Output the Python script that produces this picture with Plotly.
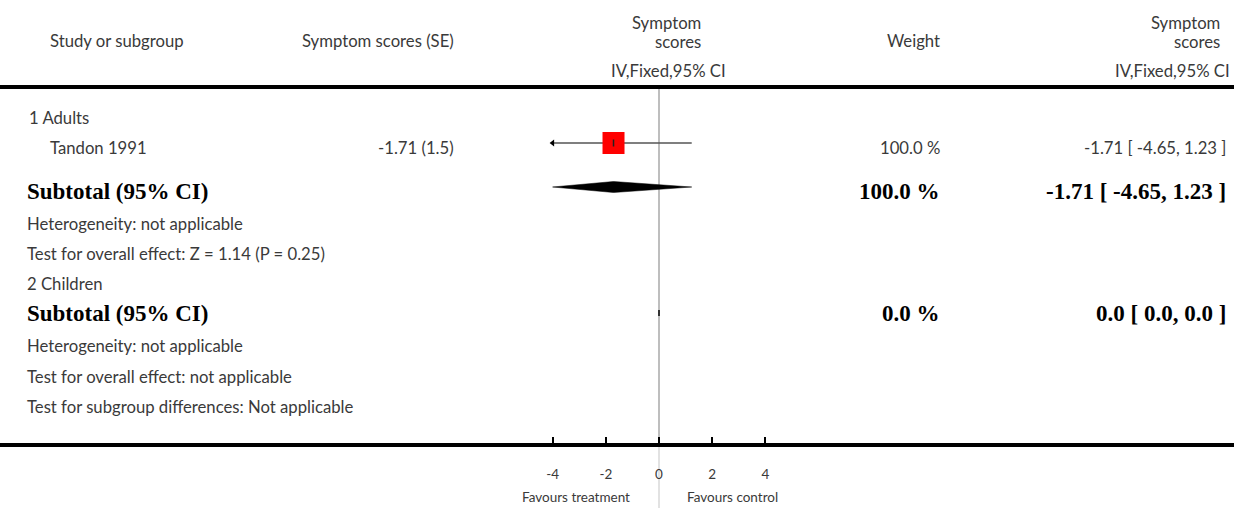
import plotly.graph_objects as go

# ---------------- data ----------------
study_names = ["Tandon 1991"]
study_effect_text = ["-1.71 (1.5)"]
study_est = [-1.71]
study_lo = [-4.65]
study_hi = [1.23]
study_weight = [100.0]

subgroup_labels = ["1 Adults", "2 Children"]
subtotal_est = [-1.71, 0.0]
subtotal_lo = [-4.65, 0.0]
subtotal_hi = [1.23, 0.0]
subtotal_weight = [100.0, 0.0]
heterogeneity_text = ["Heterogeneity: not applicable", "Heterogeneity: not applicable"]
overall_text = ["Test for overall effect: Z = 1.14 (P = 0.25)", "Test for overall effect: not applicable"]
subgroup_diff_text = "Test for subgroup differences: Not applicable"

tick_vals = [-4, -2, 0, 2, 4]
tick_labels = ["-4", "-2", "0", "2", "4"]
plot_limit = 4  # graph is drawn from -4 to 4

# ---------------- layout constants ----------------
W, H = 1234, 508
ZERO_PX = 659.0
UNIT_PX = 26.6
AXIS_PX = 443.0
X_RANGE = [(0 - ZERO_PX) / UNIT_PX, (W - ZERO_PX) / UNIT_PX]

SANS = "Lato, 'Open Sans', sans-serif"
SERIF = "'Liberation Serif', 'DejaVu Serif', serif"
TXT = "#3a3a3a"
SANS_SIZE = 16.7
BOLD_SIZE = 23

# row text positions (pixels from top)
ROW_ADULTS = 118
ROW_STUDY = 148
ROW_SUB1 = 191
ROW_HET1 = 224
ROW_OV1 = 254
ROW_CHILD = 284
ROW_SUB2 = 313
ROW_HET2 = 346
ROW_OV2 = 377
ROW_DIFF = 407

fig = go.Figure()
ann = []


def px(x):
    return x / W


def py(y):
    return 1 - y / H


def txt(x, y, s, anchor="left", bold=False, size=None, color=None):
    ann.append(dict(
        x=px(x), y=py(y), xref="paper", yref="paper", text=s, showarrow=False,
        xanchor=anchor, yanchor="middle",
        font=dict(family=SERIF if bold else SANS,
                  size=size or (BOLD_SIZE if bold else SANS_SIZE),
                  weight="bold" if bold else "normal",
                  color=color or ("black" if bold else TXT)),
    ))


def clip(v):
    return max(-plot_limit, min(plot_limit, v))


# ---------------- header ----------------
txt(48, 41, "Study or subgroup")
txt(456, 41, "Symptom scores (SE)", anchor="right")
txt(703, 23, "Symptom", anchor="right")
txt(703, 42, "scores", anchor="right")
txt(668, 71, "IV,Fixed,95% CI", anchor="center")
txt(942, 41, "Weight", anchor="right")
txt(1222, 23, "Symptom", anchor="right")
txt(1222, 42, "scores", anchor="right")
txt(1232, 71, "IV,Fixed,95% CI", anchor="right")

# ---------------- subgroup 1 ----------------
txt(27, ROW_ADULTS, subgroup_labels[0])
for i, name in enumerate(study_names):
    txt(48, ROW_STUDY, name)
    txt(456, ROW_STUDY, study_effect_text[i], anchor="right")
    txt(942, ROW_STUDY, f"{study_weight[i]:.1f} %", anchor="right")
    txt(1228, ROW_STUDY,
        f"{study_est[i]:.2f} [ {study_lo[i]:.2f}, {study_hi[i]:.2f} ]", anchor="right")
    ym = ROW_STUDY - 5
    lo, hi = clip(study_lo[i]), clip(study_hi[i])
    fig.add_trace(go.Scatter(x=[lo, hi], y=[ym, ym], mode="lines",
                             line=dict(color="#555555", width=1.6),
                             hoverinfo="skip", showlegend=False))
    if study_lo[i] < -plot_limit:
        fig.add_trace(go.Scatter(x=[lo], y=[ym], mode="markers",
                                 marker=dict(symbol="triangle-left", size=6, color="black"),
                                 hoverinfo="skip", showlegend=False))
    fig.add_trace(go.Scatter(x=[study_est[i]], y=[ym], mode="markers",
                             marker=dict(symbol="square", size=22 * (study_weight[i] / 100) ** 0.5,
                                         color="#ff0000", line=dict(width=0)),
                             hoverinfo="skip", showlegend=False))
    fig.add_trace(go.Scatter(x=[study_est[i]], y=[ym], mode="markers",
                             marker=dict(symbol="line-ns", size=5,
                                         line=dict(color="#222222", width=1.5)),
                             hoverinfo="skip", showlegend=False))

sub_rows = [ROW_SUB1, ROW_SUB2]
sub_mark_y = [ROW_SUB1 - 4, ROW_SUB2]
for k in range(2):
    txt(25, sub_rows[k], "Subtotal (95% CI)", bold=True)
    txt(942, sub_rows[k], f"{subtotal_weight[k]:.1f} %", anchor="right", bold=True)
    if subtotal_weight[k] > 0:
        s = f"{subtotal_est[k]:.2f} [ {subtotal_lo[k]:.2f}, {subtotal_hi[k]:.2f} ]"
    else:
        s = f"{subtotal_est[k]:.1f} [ {subtotal_lo[k]:.1f}, {subtotal_hi[k]:.1f} ]"
    txt(1228, sub_rows[k], s, anchor="right", bold=True)
    yc = sub_mark_y[k]
    if subtotal_weight[k] > 0:
        hh = 5.5
        lo, hi = clip(subtotal_lo[k]), clip(subtotal_hi[k])
        fig.add_trace(go.Scatter(
            x=[lo, subtotal_est[k], hi, subtotal_est[k], lo],
            y=[yc, yc - hh, yc, yc + hh, yc],
            mode="lines", fill="toself", fillcolor="black",
            line=dict(color="black", width=0.5), hoverinfo="skip", showlegend=False))
    else:
        fig.add_trace(go.Scatter(
            x=[subtotal_est[k], subtotal_est[k]], y=[yc - 3, yc + 3], mode="lines",
            line=dict(color="#333333", width=2), hoverinfo="skip", showlegend=False))

txt(25, ROW_HET1, heterogeneity_text[0])
txt(25, ROW_OV1, overall_text[0])
txt(25, ROW_CHILD, subgroup_labels[1])
txt(25, ROW_HET2, heterogeneity_text[1])
txt(25, ROW_OV2, overall_text[1])
txt(25, ROW_DIFF, subgroup_diff_text)

# favours labels
txt(ZERO_PX - 27, 497, "Favours treatment", anchor="right", size=13.5)
txt(ZERO_PX + 26, 497, "Favours control", anchor="left", size=13.5)

shapes = [
    # header rule
    dict(type="line", xref="paper", yref="paper", x0=0, x1=1, y0=py(87), y1=py(87),
         line=dict(color="black", width=4)),
    # line of no effect
    dict(type="line", xref="x", yref="paper", x0=0, x1=0, y0=py(AXIS_PX), y1=py(89),
         line=dict(color="#a8a8a8", width=1.5), layer="below"),
    dict(type="line", xref="x", yref="paper", x0=0, x1=0, y0=0, y1=py(AXIS_PX),
         line=dict(color="#d8d8d8", width=1.5), layer="below"),
]

fig.update_layout(
    width=W, height=H, margin=dict(l=0, r=0, t=0, b=0),
    paper_bgcolor="white", plot_bgcolor="white",
    showlegend=False, annotations=ann, shapes=shapes,
    xaxis=dict(range=X_RANGE, domain=[0, 1], showgrid=False, zeroline=False,
               showline=True, linecolor="black", linewidth=3.5,
               tickmode="array", tickvals=tick_vals, ticktext=tick_labels,
               ticks="inside", ticklen=6, tickwidth=2, tickcolor="black",
               ticklabelstandoff=16,
               tickfont=dict(family=SANS, size=13.5, color=TXT), fixedrange=True),
    yaxis=dict(range=[AXIS_PX, 0], domain=[(H - AXIS_PX) / H, 1], visible=False,
               fixedrange=True),
)

fig.write_html("out.html", config={"displayModeBar": False},
               post_script="document.body.style.margin='0';document.body.style.overflow='hidden';")
